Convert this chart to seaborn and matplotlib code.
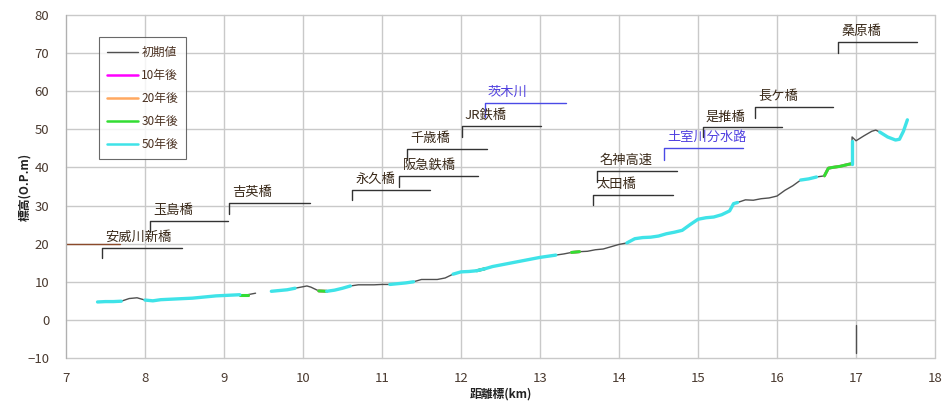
import numpy as np
import pandas as pd
import matplotlib
matplotlib.use("Agg")
import matplotlib.pyplot as plt
from matplotlib.lines import Line2D
from matplotlib.ticker import MultipleLocator
import seaborn as sns

sns.set_theme(style="white")
plt.rcParams["font.family"] = ["Noto Sans CJK JP", "DejaVu Sans"]

# ---- longitudinal profile data (distance post km, bed elevation O.P.m) ----
KM = [7.40, 7.50, 7.60, 7.70, 7.80, 7.90, 8.00, 8.10, 8.20, 8.30,
      8.40, 8.50, 8.60, 8.70, 8.80, 8.90, 9.00, 9.10, 9.20, 9.30,
      9.40, 9.50, 9.60, 9.70, 9.80, 9.90, 10.00, 10.05, 10.10, 10.20,
      10.30, 10.40, 10.50, 10.60, 10.70, 10.80, 10.90, 11.00, 11.10, 11.20,
      11.30, 11.40, 11.50, 11.60, 11.70, 11.80, 11.90, 12.00, 12.10, 12.20,
      12.30, 12.40, 12.50, 12.60, 12.70, 12.80, 12.90, 13.00, 13.10, 13.20,
      13.30, 13.40, 13.50, 13.60, 13.70, 13.80, 13.90, 14.00, 14.10, 14.20,
      14.30, 14.40, 14.50, 14.60, 14.70, 14.80, 14.90, 15.00, 15.10, 15.20,
      15.30, 15.40, 15.45, 15.50, 15.60, 15.70, 15.80, 15.90, 16.00, 16.10,
      16.20, 16.30, 16.40, 16.50, 16.60, 16.65, 16.70, 16.80, 16.90, 16.95,
      16.95, 17.00, 17.10, 17.20, 17.25, 17.30, 17.40, 17.50, 17.55, 17.60,
      17.65]

N = None
initial = [4.7, 4.8, 4.8, 4.9, 5.6, 5.8, 5.2, 5.0, 5.3, 5.4,
           5.5, 5.6, 5.7, 5.9, 6.1, 6.3, 6.4, 6.5, 6.6, 6.6,
           7.0, N, 7.5, 7.7, 7.9, 8.3, 8.7, 8.9, 8.6, 7.6,
           7.5, 7.8, 8.3, 8.9, 9.2, 9.2, 9.2, 9.3, 9.3, 9.5,
           9.7, 10.0, 10.6, 10.6, 10.6, 11.0, 12.0, 12.6, 12.7, 12.9,
           13.4, 14.0, 14.4, 14.8, 15.2, 15.6, 16.0, 16.4, 16.7, 17.0,
           17.3, 17.7, 17.9, 18.0, 18.4, 18.6, 19.2, 19.8, 20.2, 21.3,
           21.6, 21.7, 22.0, 22.6, 23.0, 23.5, 25.0, 26.4, 26.8, 27.0,
           27.6, 28.6, 30.5, 30.8, 31.5, 31.4, 31.8, 32.0, 32.5, 34.0,
           35.2, 36.7, 37.0, 37.5, 37.8, 39.8, 40.0, 40.3, 40.8, 41.0,
           48.0, 47.0, 48.3, 49.5, 49.8, 49.3, 48.0, 47.2, 47.4, 49.5,
           52.5]

year10 = [N, N, N, N, N, N, N, N, N, N,
          N, N, N, N, N, N, N, N, 6.6, 6.6,
          N, N, N, N, N, N, N, N, N, 7.6,
          7.5, N, N, N, N, N, N, N, N, N,
          N, N, N, N, N, N, N, N, N, 12.9,
          13.4, N, N, N, N, N, N, N, N, N,
          N, 17.7, 17.9, N, N, N, N, N, N, N,
          N, N, N, N, N, N, N, N, N, N,
          N, N, N, N, N, N, N, N, N, N,
          N, N, N, N, 37.8, 39.8, 40.0, 40.3, 40.8, 41.0,
          N, N, N, N, N, N, N, N, N, N,
          N]

year20 = list(year10)

year30 = list(year10)

year50 = [4.7, 4.8, 4.8, 4.9, N, N, 5.2, 5.0, 5.3, 5.4,
          5.5, 5.6, 5.7, 5.9, 6.1, 6.3, 6.4, 6.5, 6.6, N,
          N, N, 7.5, 7.7, 7.9, 8.3, N, N, N, N,
          7.5, 7.8, 8.3, 8.9, N, N, N, N, 9.3, 9.5,
          9.7, 10.0, N, N, N, N, 12.0, 12.6, 12.7, 12.9,
          13.4, 14.0, 14.4, 14.8, 15.2, 15.6, 16.0, 16.4, 16.7, 17.0,
          N, N, N, N, N, N, N, N, 20.2, 21.3,
          21.6, 21.7, 22.0, 22.6, 23.0, 23.5, 25.0, 26.4, 26.8, 27.0,
          27.6, 28.6, 30.5, 30.8, N, N, N, N, N, N,
          N, 36.7, 37.0, 37.5, N, N, N, N, N, 41.0,
          47.0, N, N, N, N, 49.3, 48.0, 47.2, 47.4, 49.5,
          52.5]

# separate initial-value record at 17.0 km
spike_km = [17.0, 17.0]
spike_val = [-1.3, -8.7]

series_names = ["初期値", "10年後", "20年後", "30年後", "50年後"]
series_values = [initial, year10, year20, year30, year50]
series_colors = ["#505050", "#ff00ff", "#ffa860", "#33dd33", "#3fe3e8"]
series_widths = [1.0, 2.0, 2.0, 2.2, 2.4]

# ---- structure labels: name, stem x, stem bottom, leader y, leader end x, colour ----
lab_names = ["安威川新橋", "玉島橋", "吉英橋", "永久橋", "阪急鉄橋", "千歳橋",
             "JR鉄橋", "茨木川", "名神高速", "太田橋", "土室川分水路",
             "是推橋", "長ケ橋", "桑原橋"]
lab_x = [7.46, 8.06, 9.06, 10.62, 11.22, 11.32, 12.01, 12.30, 13.72, 13.67,
         14.57, 15.06, 15.72, 16.77]
lab_y0 = [16.2, 23.1, 27.9, 31.5, 35.0, 42.0, 48.0, 53.3, 36.1, 30.2,
          41.9, 48.0, 53.0, 70.1]
lab_y1 = [18.9, 26.0, 30.7, 34.1, 37.8, 44.9, 50.9, 56.9, 39.1, 32.8,
          45.1, 50.6, 55.9, 72.9]
lab_x1 = [8.47, 9.05, 10.09, 11.61, 12.22, 12.33, 13.01, 13.33, 14.73, 14.68,
          15.57, 16.06, 16.71, 17.77]
lab_blue = [False, False, False, False, False, False, False, True, False, False,
            True, False, False, False]

water_level_ref = 20
water_level_end = 7.68


def segments(km, vals):
    """Split a series into continuous runs (None marks a gap)."""
    runs, cur = [], []
    for k, v in zip(km, vals):
        if v is None:
            if len(cur) > 1:
                runs.append(cur)
            cur = []
        else:
            cur.append((k, v))
    if len(cur) > 1:
        runs.append(cur)
    return runs


rows = []
for name, vals in zip(series_names, series_values):
    for si, run in enumerate(segments(KM, vals)):
        for order, (k, v) in enumerate(run):
            rows.append({"series": name, "seg": si, "order": order, "km": k, "elev": v})
rows += [{"series": "初期値", "seg": 999, "order": i, "km": k, "elev": v}
         for i, (k, v) in enumerate(zip(spike_km, spike_val))]
df = pd.DataFrame(rows)

fig = plt.figure(figsize=(9.42, 4.03), dpi=100)
ax = fig.add_axes([0.070, 0.1117, 0.9226, 0.851])

grid_c = "#c9c9c9"
for gx in range(7, 19):
    ax.axvline(gx, color=grid_c, lw=1.0, zorder=0, clip_on=False)
for gy in range(-10, 81, 10):
    ax.axhline(gy, color=grid_c, lw=1.0, zorder=0, clip_on=False)

ax.plot([7, water_level_end], [water_level_ref, water_level_ref], color="#8b4a2a", lw=1.0, zorder=1)

for name, col, lw in zip(series_names, series_colors, series_widths):
    sub = df[df["series"] == name]
    if sub.empty:
        continue
    sns.lineplot(data=sub, x="km", y="elev", units="seg", estimator=None, sort=False,
                 color=col, lw=lw, ax=ax, legend=False, zorder=2)

for nm, x0, y0, y1, x1, blue in zip(lab_names, lab_x, lab_y0, lab_y1, lab_x1, lab_blue):
    c = "#4a4ae6" if blue else "#333333"
    ax.plot([x0, x0, x1], [y0, y1, y1], color=c, lw=1.0, zorder=3)
    ax.text(x0 + 0.04, y1 + 1.0, nm, fontsize=9.5, color="#5040e0" if blue else "#3a2a1a",
            ha="left", va="bottom", zorder=4)

ax.set_xlim(7, 18)
ax.set_ylim(-10, 80)
ax.xaxis.set_major_locator(MultipleLocator(1))
ax.xaxis.set_minor_locator(MultipleLocator(0.2))
ax.yaxis.set_major_locator(MultipleLocator(10))
ax.yaxis.set_minor_locator(MultipleLocator(2))
ax.tick_params(axis="both", which="major", labelsize=9.5, colors="#999999",
               labelcolor="#4a3a30", length=4, width=0.8)
ax.tick_params(axis="both", which="minor", length=2, width=0.6, colors="#b0b0b0")
ax.tick_params(axis="y", pad=8)
ax.tick_params(axis="x", pad=6)
for side in ["top", "right", "bottom"]:
    ax.spines[side].set_visible(False)
ax.spines["left"].set_color("#b0b0b0")
ax.spines["left"].set_linewidth(0.8)

ax.set_xlabel("距離標(km)", fontsize=8.5, fontweight="bold", color="#222222", labelpad=2)
ax.set_ylabel("標高(O.P.m)", fontsize=8.5, fontweight="bold", color="#222222", labelpad=-3)

handles = [Line2D([], [], color=c, lw=(1.0 if i == 0 else 1.8)) for i, c in enumerate(series_colors)]
leg = ax.legend(handles, series_names, loc="upper left", bbox_to_anchor=(0.031, 0.952),
                fontsize=8.5, frameon=True, fancybox=False, handlelength=2.6,
                labelspacing=0.85, borderpad=0.7, handletextpad=0.3)
leg.get_frame().set_edgecolor("#444444")
leg.get_frame().set_linewidth(0.8)
for t in leg.get_texts():
    t.set_color("#4a3020")

fig.savefig("out.png", dpi=100, facecolor="white")
